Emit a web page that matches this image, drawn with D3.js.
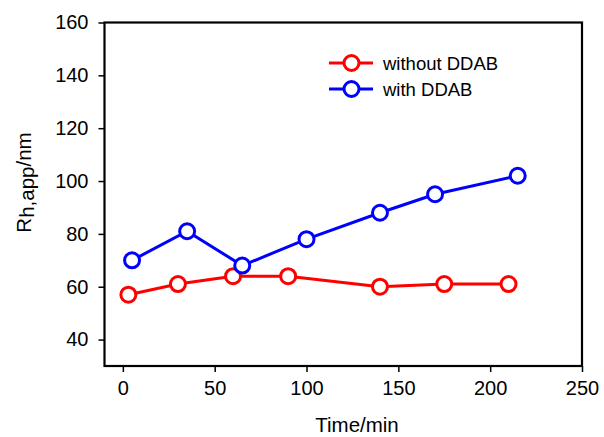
<!DOCTYPE html>
<html>
<head>
<meta charset="utf-8">
<script src="https://cdn.jsdelivr.net/npm/d3@7"></script>
<style>
  body { margin: 0; background: #fff; }
  svg { font-family: "Liberation Sans", Arial, sans-serif; }
</style>
</head>
<body>
<svg id="chart" width="604" height="437"></svg>
<script>
// data
const timeWithout = [3, 30, 60, 90, 140, 175, 210]
const rhWithout = [57, 61, 64, 64, 60, 61, 61]
const timeWith = [5, 35, 65, 100, 140, 170, 215]
const rhWith = [70, 81, 68, 78, 88, 95, 102]
const xTicks = [0, 50, 100, 150, 200, 250]
const yTicks = [40, 60, 80, 100, 120, 140, 160]
const seriesNames = ["without DDAB", "with DDAB"]
const seriesColors = ["#ff0000", "#0000ff"]

const svg = d3.select("#chart")
const plotLeft = 104.5, plotRight = 582, plotTop = 22.5, plotBottom = 366

let x = d3.scaleLinear().domain([-10, 250]).range([plotLeft, plotRight])
let y = d3.scaleLinear().domain([30, 160]).range([plotBottom, plotTop])

// frame
svg.append("rect")
    .attr("x", plotLeft).attr("y", plotTop)
    .attr("width", plotRight - plotLeft).attr("height", plotBottom - plotTop)
    .attr("fill", "none").attr("stroke", "black").attr("stroke-width", 2.2)

// x axis
let xAxis = svg.append("g")
    .attr("transform", "translate(0," + plotBottom + ")")
    .call(d3.axisBottom(x).tickValues(xTicks).tickSize(6).tickPadding(9))
xAxis.select(".domain").remove()
xAxis.selectAll("line").attr("stroke-width", 1.5)
xAxis.selectAll("text").attr("font-size", 20).attr("fill", "#000").attr("font-family", "Liberation Sans, Arial")

// y axis
let yAxis = svg.append("g")
    .attr("transform", "translate(" + plotLeft + ",0)")
    .call(d3.axisLeft(y).tickValues(yTicks).tickSize(6).tickPadding(10))
yAxis.select(".domain").remove()
yAxis.selectAll("line").attr("stroke-width", 1.5)
yAxis.selectAll("text").attr("font-size", 20).attr("fill", "#000").attr("font-family", "Liberation Sans, Arial")

// axis titles
svg.append("text")
    .attr("x", 357).attr("y", 431.5)
    .attr("text-anchor", "middle")
    .attr("font-size", 20.5)
    .text("Time/min")

let yTitle = svg.append("text")
    .attr("transform", "translate(31,182.5) rotate(-90)")
    .attr("text-anchor", "middle")
    .attr("font-size", 20.5)
yTitle.append("tspan").text("R")
yTitle.append("tspan").attr("dy", 3).text("h,app")
yTitle.append("tspan").attr("dy", -3).text("/nm")

// series
const series = [
    timeWithout.map((t, i) => [t, rhWithout[i]]),
    timeWith.map((t, i) => [t, rhWith[i]])
]

let line = d3.line().x(d => x(d[0])).y(d => y(d[1]))

series.forEach((pts, i) => {
    svg.append("path")
        .datum(pts)
        .attr("d", line)
        .attr("fill", "none")
        .attr("stroke", seriesColors[i])
        .attr("stroke-width", 3)
    svg.append("g").selectAll("circle")
        .data(pts)
        .enter().append("circle")
        .attr("cx", d => x(d[0]))
        .attr("cy", d => y(d[1]))
        .attr("r", 7.5)
        .attr("fill", "white")
        .attr("stroke", seriesColors[i])
        .attr("stroke-width", 3)
})

// legend
let legend = svg.append("g")
seriesNames.forEach((name, i) => {
    let ly = 63 + i * 26
    legend.append("line")
        .attr("x1", 329).attr("x2", 373)
        .attr("y1", ly).attr("y2", ly)
        .attr("stroke", seriesColors[i]).attr("stroke-width", 3)
    legend.append("circle")
        .attr("cx", 351.5).attr("cy", ly).attr("r", 7.5)
        .attr("fill", "white")
        .attr("stroke", seriesColors[i]).attr("stroke-width", 3)
    legend.append("text")
        .attr("x", 383).attr("y", ly + 6.5)
        .attr("font-size", 18.5)
        .text(name)
})
</script>
</body>
</html>
